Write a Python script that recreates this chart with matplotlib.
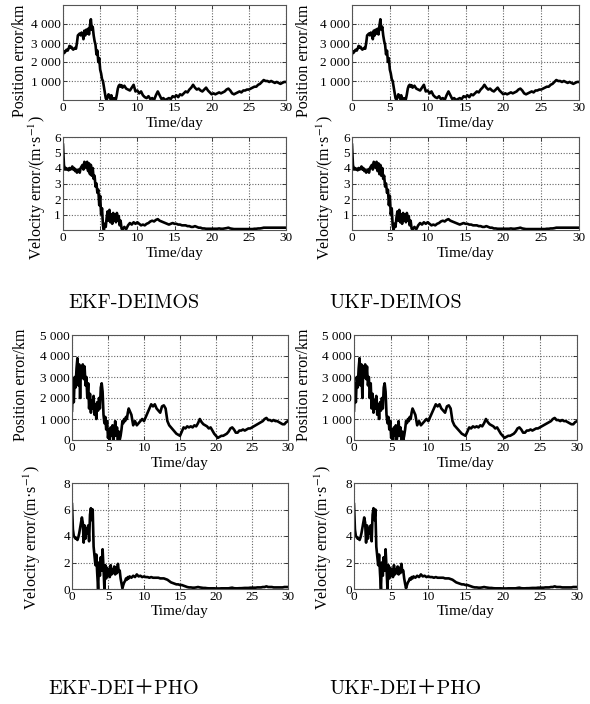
import numpy as np
import matplotlib
matplotlib.use("Agg")
import matplotlib.pyplot as plt
from matplotlib.ticker import FuncFormatter

plt.rcParams['font.family'] = ['Liberation Serif', 'DejaVu Serif']
plt.rcParams['mathtext.fontset'] = 'stix'

# ---------------- data ----------------
# Time axis: dense grid days 0-8 (step 0.125), then 8.25-30 (step 0.25)
x_ticks = [0, 5, 10, 15, 20, 25, 30]

# EKF-DEIMOS position error (km)
deimos_pos_early = [2400, 2550, 2500, 2600, 2650, 2600, 2700, 2850, 2750, 2800, 2700, 2650, 2700,
                    2750, 2700, 3000, 3400, 3450, 3500, 3400, 3550, 3500, 3200, 3650, 3400, 3700,
                    3500, 3750, 3450, 3900, 4250, 3700, 3850, 3400, 3100, 2900, 2400, 2600, 2000,
                    2200, 1600, 1400, 1100, 1000, 700, 400, 100, 0, 150, 300, 200, 50, 250, 0, 0,
                    100, 0, 50, 300, 600, 750, 800, 700, 780, 650]
deimos_pos_late = [750, 600, 550, 500, 650, 800, 450, 500, 350, 450, 250, 150, 100, 200, 50, 100,
                   0, 250, 450, 250, 50, 100, 0, 50, 100, 50, 200, 150, 250, 150, 300, 250, 350,
                   450, 400, 550, 650, 800, 650, 550, 600, 500, 450, 550, 650, 500, 400, 300, 350,
                   300, 350, 400, 350, 400, 450, 550, 600, 500, 350, 300, 350, 400, 450, 400, 500,
                   500, 550, 550, 600, 650, 700, 700, 800, 850, 950, 1050, 1000, 1000, 950, 1000,
                   950, 900, 950, 900, 850, 900, 950, 950]

# EKF-DEIMOS velocity error (m/s)
deimos_vel_early = [5.5, 4.2, 3.9, 4.0, 3.9, 3.95, 3.85, 4.0, 3.9, 3.95, 4.1, 3.9, 4.0, 3.8, 3.9,
                    3.7, 3.8, 3.9, 3.7, 4.0, 4.1, 4.2, 3.9, 4.4, 4.3, 4.0, 4.4, 3.8, 4.3, 3.6, 4.2,
                    3.5, 4.0, 3.3, 3.5, 2.8, 3.0, 2.4, 2.6, 1.6, 2.2, 1.0, 1.4, 0.3, 0.0, 0.4, 0.2,
                    0.8, 1.2, 0.6, 1.3, 0.5, 1.0, 0.4, 1.1, 0.6, 1.0, 0.5, 1.1, 0.6, 0.9, 0.3, 0.6,
                    0.1, 0.0]
deimos_vel_late = [0.2, 0.05, 0.3, 0.45, 0.35, 0.5, 0.4, 0.5, 0.4, 0.3, 0.35, 0.3, 0.4, 0.45, 0.55,
                   0.6, 0.55, 0.65, 0.7, 0.6, 0.55, 0.5, 0.45, 0.4, 0.35, 0.4, 0.45, 0.4, 0.4, 0.35,
                   0.35, 0.3, 0.3, 0.3, 0.25, 0.25, 0.2, 0.2, 0.25, 0.2, 0.15, 0.15, 0.1, 0.1, 0.08,
                   0.08, 0.08, 0.08, 0.08, 0.08, 0.08, 0.1, 0.08, 0.08, 0.1, 0.12, 0.15, 0.1, 0.08,
                   0.06, 0.06, 0.06, 0.06, 0.06, 0.06, 0.06, 0.06, 0.06, 0.06, 0.06, 0.08, 0.08,
                   0.1, 0.1, 0.12, 0.15, 0.15, 0.15, 0.15, 0.15, 0.15, 0.15, 0.15, 0.15, 0.15, 0.15,
                   0.15, 0.15]

# EKF-DEI+PHO position error (km)
pho_pos_early = [1400, 2700, 1800, 3000, 2500, 3400, 3900, 2600, 3600, 2000, 3500, 3000, 3600, 2900,
                 3500, 2600, 3000, 2000, 2700, 1500, 2200, 1300, 1900, 1500, 2100, 1200, 1700, 1000,
                 1800, 1400, 2000, 1500, 2500, 2700, 2300, 1200, 800, 1100, 500, 900, 100, 500, 0,
                 600, 200, 700, 0, 300, 900, 200, 600, 0, 400, 0, 200, 500, 900, 800, 1000, 900,
                 1100, 1000, 1300, 1500, 1400]
pho_pos_late = [1200, 700, 900, 700, 800, 900, 1000, 900, 1100, 1300, 1500, 1700, 1600, 1700, 1500,
                1400, 1300, 1600, 1650, 1500, 900, 700, 600, 500, 400, 300, 250, 200, 400, 600, 550,
                650, 600, 650, 600, 700, 650, 800, 1000, 850, 750, 700, 650, 550, 600, 450, 300, 200,
                100, 150, 200, 200, 250, 300, 400, 550, 600, 500, 350, 350, 450, 450, 500, 450, 500,
                550, 550, 600, 650, 700, 750, 800, 850, 900, 1000, 1050, 950, 950, 900, 950, 900,
                900, 850, 800, 750, 750, 850, 900]

# EKF-DEI+PHO velocity error (m/s)
pho_vel_early = [6.4, 4.5, 4.0, 3.9, 3.8, 3.8, 3.7, 3.9, 4.2, 4.6, 5.0, 5.4, 5.0, 3.5, 4.8, 3.8, 4.6,
                 4.2, 4.8, 3.6, 5.6, 6.1, 5.2, 6.0, 3.2, 2.5, 1.8, 2.6, 1.2, 0.0, 2.0, 1.0, 2.4, 1.4,
                 3.0, 1.6, 0.0, 1.8, 0.8, 1.6, 1.0, 1.5, 0.9, 1.8, 1.1, 1.5, 1.2, 1.7, 1.1, 1.6, 1.2,
                 1.9, 1.3, 1.4, 0.8, 0.4, 0.05, 0.3, 0.5, 0.6, 0.8, 0.7, 0.9, 0.8, 0.95]
pho_vel_late = [0.85, 1.0, 0.9, 1.1, 0.95, 1.0, 0.9, 0.95, 0.9, 0.9, 0.85, 0.9, 0.85, 0.85, 0.85,
                0.85, 0.8, 0.8, 0.8, 0.75, 0.7, 0.6, 0.5, 0.45, 0.4, 0.35, 0.35, 0.3, 0.3, 0.25, 0.2,
                0.15, 0.12, 0.12, 0.1, 0.1, 0.12, 0.15, 0.12, 0.1, 0.08, 0.08, 0.06, 0.05, 0.05,
                0.05, 0.05, 0.04, 0.04, 0.04, 0.05, 0.05, 0.05, 0.05, 0.05, 0.08, 0.1, 0.06, 0.05,
                0.05, 0.06, 0.06, 0.07, 0.08, 0.08, 0.08, 0.1, 0.1, 0.1, 0.1, 0.12, 0.12, 0.12, 0.15,
                0.15, 0.2, 0.15, 0.15, 0.15, 0.12, 0.12, 0.12, 0.12, 0.12, 0.12, 0.15, 0.15, 0.15]

# UKF results are visually indistinguishable from EKF in the reference
ukf_deimos_pos_early, ukf_deimos_pos_late = deimos_pos_early, deimos_pos_late
ukf_deimos_vel_early, ukf_deimos_vel_late = deimos_vel_early, deimos_vel_late
ukf_pho_pos_early, ukf_pho_pos_late = pho_pos_early, pho_pos_late
ukf_pho_vel_early, ukf_pho_vel_late = pho_vel_early, pho_vel_late

captions = ["EKF-DEIMOS", "UKF-DEIMOS", "EKF-DEI＋PHO", "UKF-DEI＋PHO"]


def series(early, late):
    t = np.concatenate([np.linspace(0, 8, len(early)), np.linspace(8.25, 30, len(late))])
    v = np.concatenate([np.asarray(early, float), np.asarray(late, float)])
    return t, v


W, H = 590, 704
fig = plt.figure(figsize=(W / 100, H / 100), dpi=100)


def px_axes(x0, y0, x1, y1):
    return fig.add_axes([x0 / W, 1 - y1 / H, (x1 - x0) / W, (y1 - y0) / H])


def fmt_thousands(v, pos):
    return f"{int(round(v)):,}".replace(",", " ")


def style(ax, ylim, yticks, thousands=False):
    ax.set_xlim(0, 30)
    ax.set_ylim(*ylim)
    ax.set_xticks(x_ticks)
    ax.set_yticks(yticks)
    if thousands:
        ax.yaxis.set_major_formatter(FuncFormatter(fmt_thousands))
    ax.grid(True, linestyle=(0, (1, 1.5)), color='#666666', linewidth=0.8)
    for s in ax.spines.values():
        s.set_color('#555555')
        s.set_linewidth(0.8)
    ax.tick_params(direction='in', length=3, width=0.6, top=True, right=True,
                   labelsize=9.5, pad=1.5, colors='#222222', labelcolor='black')


def panel(pos_box, vel_box, pe, pl, ve, vl, pos_cfg, vel_cfg, ylab_x, pos_lab_y, vel_lab_y):
    axp = px_axes(*pos_box)
    t, v = series(pe, pl)
    axp.plot(t, v, color='black', lw=1.9)
    style(axp, *pos_cfg, thousands=True)
    axv = px_axes(*vel_box)
    t, v = series(ve, vl)
    axv.plot(t, v, color='black', lw=1.9)
    style(axv, *vel_cfg)
    for ax, box in ((axp, pos_box), (axv, vel_box)):
        cx = (box[0] + box[2]) / 2
        fig.text(cx / W, 1 - (box[3] + 23) / H, "Time/day", ha='center', va='center', fontsize=11)
    fig.text(ylab_x[0] / W, 1 - pos_lab_y / H, "Position error/km", rotation=90,
             ha='center', va='center', fontsize=11.5)
    fig.text(ylab_x[1] / W, 1 - vel_lab_y / H, "Velocity error/(m·s$^{-1}$)", rotation=90,
             ha='center', va='center', fontsize=11.5)


top_pos = ((0, 5000), [1000, 2000, 3000, 4000])
top_vel = ((0, 6), [1, 2, 3, 4, 5, 6])
bot_pos = ((0, 5000), [0, 1000, 2000, 3000, 4000, 5000])
bot_vel = ((0, 8), [0, 2, 4, 6, 8])

panel((63, 5, 286, 100), (63, 137, 286, 230), deimos_pos_early, deimos_pos_late,
      deimos_vel_early, deimos_vel_late, top_pos, top_vel, (20, 37), 61, 188)
panel((352, 5, 579, 100), (352, 137, 579, 230), ukf_deimos_pos_early, ukf_deimos_pos_late,
      ukf_deimos_vel_early, ukf_deimos_vel_late, top_pos, top_vel, (304, 325), 61, 188)
panel((72, 335, 288, 440), (72, 483, 288, 589), pho_pos_early, pho_pos_late,
      pho_vel_early, pho_vel_late, bot_pos, bot_vel, (21, 32), 385, 538)
panel((354, 335, 577, 440), (354, 483, 577, 589), ukf_pho_pos_early, ukf_pho_pos_late,
      ukf_pho_vel_early, ukf_pho_vel_late, bot_pos, bot_vel, (304, 323), 385, 538)

cap_pos = [(134, 303), (396, 303), (124, 689), (405, 689)]
for (cx, cy), txt in zip(cap_pos, captions):
    fig.text(cx / W, 1 - cy / H, txt, ha='center', va='center', fontsize=14.5,
             family=['cmr10', 'Noto Sans CJK SC'])

fig.savefig("out.png", dpi=100)
